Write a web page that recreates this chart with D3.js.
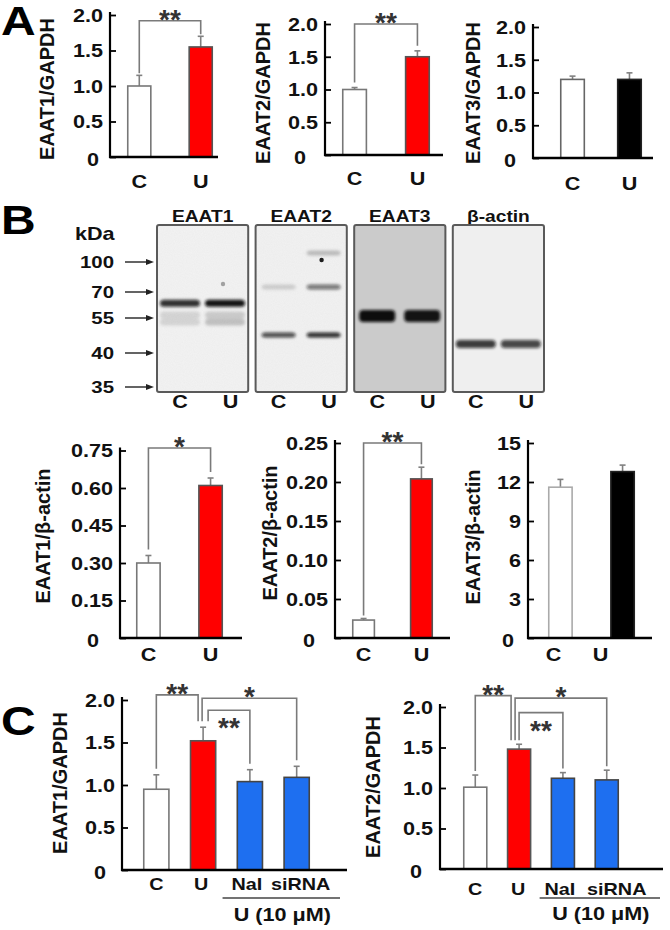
<!DOCTYPE html>
<html><head><meta charset="utf-8">
<script src="https://cdn.jsdelivr.net/npm/d3@7"></script>
<style>
html,body{margin:0;padding:0;background:#fff;}
svg{display:block;}
text{font-family:"Liberation Sans",Arial,sans-serif;font-weight:bold;}
</style></head><body>
<svg id="fig" width="670" height="930"></svg>
<script>
// ================= DATA =================
const groupsAB = ["C", "U"];
const groupsC = ["C", "U", "NaI", "siRNA"];

const a1Values = [1.00, 1.55], a1Errors = [0.15, 0.15];
const a2Values = [1.00, 1.50], a2Errors = [0.03, 0.09];
const a3Values = [1.20, 1.20], a3Errors = [0.05, 0.10];

const b1Values = [0.30, 0.61], b1Errors = [0.03, 0.03];
const b2Values = [0.023, 0.204], b2Errors = [0.002, 0.015];
const b3Values = [11.6, 12.8], b3Errors = [0.6, 0.5];

const c1Values = [0.95, 1.52, 1.04, 1.09], c1Errors = [0.17, 0.16, 0.14, 0.13];
const c2Values = [1.01, 1.48, 1.12, 1.10], c2Errors = [0.15, 0.06, 0.07, 0.12];

const ticksGAPDH = [0, 0.5, 1.0, 1.5, 2.0];
const ticksB1 = [0, 0.15, 0.30, 0.45, 0.60, 0.75];
const ticksB2 = [0, 0.05, 0.10, 0.15, 0.20, 0.25];
const ticksB3 = [0, 3, 6, 9, 12, 15];

const sigA1 = [{a: "C", b: "U", level: 1.92, label: "**"}];
const sigA2 = [{a: "C", b: "U", level: 2.00, label: "**"}];
const sigB1 = [{a: "C", b: "U", level: 0.76, label: "*"}];
const sigB2 = [{a: "C", b: "U", level: 0.25, label: "**"}];
const sigC1 = [{a: "C", b: "U", level: 2.06, label: "**"},
               {a: "U", b: "siRNA", level: 2.02, label: "*"},
               {a: "U", b: "NaI", level: 1.88, label: "**"}];
const sigC2 = [{a: "C", b: "U", level: 2.14, label: "**"},
               {a: "U", b: "siRNA", level: 2.11, label: "*"},
               {a: "U", b: "NaI", level: 1.93, label: "**"}];

// western blot
const blotNames = ["EAAT1", "EAAT2", "EAAT3", "β-actin"];
const laneNames = ["C", "U"];
const markerKDa = [100, 70, 55, 40, 35];
const blotBands = [
  {blot: "EAAT1", lane: "C", kDa: 63.5, intensity: 0.85},
  {blot: "EAAT1", lane: "U", kDa: 63.5, intensity: 0.97},
  {blot: "EAAT1", lane: "C", kDa: 56.7, intensity: 0.12},
  {blot: "EAAT1", lane: "U", kDa: 56.7, intensity: 0.16},
  {blot: "EAAT1", lane: "C", kDa: 53.3, intensity: 0.12},
  {blot: "EAAT1", lane: "U", kDa: 53.3, intensity: 0.2},
  {blot: "EAAT2", lane: "C", kDa: 47.7, intensity: 0.72},
  {blot: "EAAT2", lane: "U", kDa: 47.7, intensity: 0.85},
  {blot: "EAAT2", lane: "C", kDa: 75, intensity: 0.15},
  {blot: "EAAT2", lane: "U", kDa: 75, intensity: 0.55},
  {blot: "EAAT2", lane: "U", kDa: 109, intensity: 0.22},
  {blot: "EAAT3", lane: "C", kDa: 56.2, intensity: 1.0},
  {blot: "EAAT3", lane: "U", kDa: 56.2, intensity: 0.97},
  {blot: "β-actin", lane: "C", kDa: 43.9, intensity: 0.8},
  {blot: "β-actin", lane: "U", kDa: 43.9, intensity: 0.75}
];
const blotSpots = [
  {blot: "EAAT2", lane: "U", kDa: 102, intensity: 0.95},
  {blot: "EAAT1", lane: "U", kDa: 78, intensity: 0.35}
];

// ================= LAYOUT / STYLE =================
const SX = 1.2;            // horizontal text stretch of the original figure
const WHITE = "#ffffff", RED = "#ff0000", BLACK = "#000000", BLUE = "#1e6ff0";
const svg = d3.select("#fig");

const defs = svg.append("defs");
defs.append("filter").attr("id", "bandBlur").attr("x", "-30%").attr("y", "-100%").attr("width", "160%").attr("height", "300%")
  .append("feGaussianBlur").attr("stdDeviation", "1.8 1.4");
const noise = defs.append("filter").attr("id", "noise").attr("x", 0).attr("y", 0).attr("width", "100%").attr("height", "100%");
noise.append("feTurbulence").attr("type", "fractalNoise").attr("baseFrequency", 0.9).attr("numOctaves", 2).attr("seed", 3).attr("result", "t");
noise.append("feColorMatrix").attr("in", "t").attr("type", "matrix")
  .attr("values", "0 0 0 0 0.5  0 0 0 0 0.5  0 0 0 0 0.5  0 0 0 0.12 0");

function htext(g, x, y, str, size, anchor = "middle", fill = "#111") {
  return g.append("text")
    .attr("transform", `translate(${x},${y}) scale(${SX},1)`)
    .attr("text-anchor", anchor)
    .attr("font-size", size)
    .attr("fill", fill)
    .text(str);
}

// ================= BAR PANELS =================
const panels = [
  {groups: groupsAB, values: a1Values, errors: a1Errors, fills: [WHITE, RED], strokes: ["#777", "#555"],
   ticks: ticksGAPDH, fmt: d3.format(".1f"), yMax: 2, title: "EAAT1/GAPDH", sig: sigA1,
   L: {axisX: 110, xEnd: 218, base: 157, top: 15, barRange: [127, 213], pad: 0.6, titleX: 54, titleY: 89,
       labelPad: 18, zeroDx: -17, gap: 2}},
  {groups: groupsAB, values: a2Values, errors: a2Errors, fills: [WHITE, RED], strokes: ["#777", "#555"],
   ticks: ticksGAPDH, fmt: d3.format(".1f"), yMax: 2, title: "EAAT2/GAPDH", sig: sigA2,
   L: {axisX: 325, xEnd: 443, base: 155, top: 24, barRange: [342, 430], pad: 0.6, titleX: 270, titleY: 93,
       labelPad: 17, zeroDx: -25, gap: 5}},
  {groups: groupsAB, values: a3Values, errors: a3Errors, fills: [WHITE, BLACK], strokes: ["#666", "#222"],
   ticks: ticksGAPDH, fmt: d3.format(".1f"), yMax: 2, title: "EAAT3/GAPDH", sig: [],
   L: {axisX: 533, xEnd: 653, base: 158, top: 27, barRange: [560, 642], pad: 0.56, titleX: 480, titleY: 93,
       labelPad: 19, zeroDx: -23, gap: 3}},
  {groups: groupsAB, values: b1Values, errors: b1Errors, fills: [WHITE, RED], strokes: ["#777", "#555"],
   ticks: ticksB1, fmt: d3.format(".2f"), yMax: 0.75, title: "EAAT1/β-actin", sig: sigB1,
   L: {axisX: 120, xEnd: 242, base: 638, top: 450.5, barRange: [136, 223], pad: 0.6, titleX: 50, titleY: 536,
       labelPad: 10, zeroDx: -27, gap: 6}},
  {groups: groupsAB, values: b2Values, errors: b2Errors, fills: [WHITE, RED], strokes: ["#777", "#555"],
   ticks: ticksB2, fmt: d3.format(".2f"), yMax: 0.25, title: "EAAT2/β-actin", sig: sigB2,
   L: {axisX: 335, xEnd: 450, base: 638, top: 443, barRange: [352, 433], pad: 0.6, titleX: 277, titleY: 533,
       labelPad: 10, zeroDx: -26, gap: 3}},
  {groups: groupsAB, values: b3Values, errors: b3Errors, fills: [WHITE, BLACK], strokes: ["#aaa", "#222"],
   ticks: ticksB3, fmt: d3.format("d"), yMax: 15, title: "EAAT3/β-actin", sig: [],
   L: {axisX: 528, xEnd: 652, base: 638, top: 443, barRange: [548, 635], pad: 0.6, titleX: 480, titleY: 537,
       labelPad: 10, zeroDx: -20, gap: 3, labelDx: [-7, -22]}},
  {groups: groupsC, values: c1Values, errors: c1Errors, fills: [WHITE, RED, BLUE, BLUE], strokes: ["#777", "#555", "#444", "#444"],
   ticks: ticksGAPDH, fmt: d3.format(".1f"), yMax: 2, title: "EAAT1/GAPDH", sig: sigC1,
   L: {axisX: 122, xEnd: 347, base: 870, top: 700, barRange: [143, 310], pad: 0.43, titleX: 67, titleY: 783,
       labelPad: 8, zeroDx: -22, gap: 6, endOffsets: [[0, -5], [-1, 0], [5, 0]], below: [2],
       labelDx: [0, -2, -3, 4], labelSize: 16.5,
       underPad: [14, 30], underY: 898, groupLabelY: 921}},
  {groups: groupsC, values: c2Values, errors: c2Errors, fills: [WHITE, RED, BLUE, BLUE], strokes: ["#777", "#555", "#444", "#444"],
   ticks: ticksGAPDH, fmt: d3.format(".1f"), yMax: 2, title: "EAAT2/GAPDH", sig: sigC2,
   L: {axisX: 440, xEnd: 663, base: 869, top: 707, barRange: [463, 619], pad: 0.44, titleX: 380, titleY: 787,
       labelPad: 14, zeroDx: -24, gap: 4, endOffsets: [[0, -8], [-4, 0], [0, 0]], below: [2],
       labelDx: [0, -1, -3, 10], labelSize: 16.5,
       underPad: [11, 41], underY: 898, groupLabelY: 920}}
];

function barPanel(p) {
  const L = p.L;
  const g = svg.append("g");
  const y = d3.scaleLinear().domain([0, p.yMax]).range([L.base, L.top]);
  const x = d3.scaleBand().domain(p.groups).range(L.barRange).paddingInner(L.pad).paddingOuter(0);
  const bw = x.bandwidth();
  const rows = p.groups.map((k, i) => ({k, v: p.values[i], e: p.errors[i], fill: p.fills[i], stroke: p.strokes[i]}));

  // error bars (upward only)
  const eg = g.append("g").attr("stroke", "#808080").attr("stroke-width", 1.6);
  eg.selectAll("line.err").data(rows).join("line")
    .attr("x1", d => x(d.k) + bw / 2).attr("x2", d => x(d.k) + bw / 2)
    .attr("y1", d => y(d.v)).attr("y2", d => y(d.v + d.e));
  eg.selectAll("line.cap").data(rows).join("line")
    .attr("x1", d => x(d.k) + bw / 2 - 3).attr("x2", d => x(d.k) + bw / 2 + 3)
    .attr("y1", d => y(d.v + d.e)).attr("y2", d => y(d.v + d.e));

  // bars
  g.selectAll("rect.bar").data(rows).join("rect")
    .attr("x", d => x(d.k) + 0.75).attr("width", bw - 1.5)
    .attr("y", d => y(d.v)).attr("height", d => L.base - y(d.v))
    .attr("fill", d => d.fill).attr("stroke", d => d.stroke).attr("stroke-width", 1.6);

  // y axis with inward ticks
  const ya = d3.axisLeft(y).tickValues(p.ticks).tickSizeInner(-6).tickSizeOuter(0).tickPadding(0).tickFormat(p.fmt);
  const yg = g.append("g").attr("transform", `translate(${L.axisX},0)`).call(ya);
  yg.attr("font-family", null).attr("font-size", 18);
  yg.select(".domain").remove();
  yg.selectAll(".tick line").attr("stroke", "#000").attr("stroke-width", 1.8);
  yg.selectAll(".tick text")
    .attr("x", -7 / SX).attr("dy", "0.36em").attr("fill", "#111")
    .attr("transform", `scale(${SX},1)`);
  yg.selectAll(".tick text").filter(d => d === 0)
    .attr("x", L.zeroDx / SX).attr("text-anchor", "middle").attr("dy", "0.45em").text("0");

  // axis lines
  g.append("line").attr("x1", L.axisX).attr("x2", L.axisX).attr("y1", L.base + 1).attr("y2", L.top - 3)
    .attr("stroke", "#000").attr("stroke-width", 2.2);
  g.append("line").attr("x1", L.axisX - 1).attr("x2", L.xEnd).attr("y1", L.base).attr("y2", L.base)
    .attr("stroke", "#000").attr("stroke-width", 2.6);

  // x labels
  const xa = d3.axisBottom(x).tickSize(0).tickPadding(L.labelPad);
  const xg = g.append("g").attr("transform", `translate(0,${L.base})`).call(xa);
  xg.attr("font-family", null).attr("font-size", L.labelSize || 18);
  xg.select(".domain").remove();
  xg.selectAll(".tick text").attr("fill", "#111")
    .attr("x", (d, i) => (L.labelDx ? L.labelDx[i] : 0) / SX)
    .attr("transform", `scale(${SX},1)`);

  // y title
  g.append("text")
    .attr("transform", `translate(${L.titleX},${L.titleY}) rotate(-90)`)
    .attr("text-anchor", "middle").attr("font-size", 20).attr("fill", "#111")
    .text(p.title);

  // significance brackets
  const topOf = k => { const i = p.groups.indexOf(k); return y(p.values[i] + p.errors[i]); };
  p.sig.forEach((s, i) => {
    const off = L.endOffsets ? L.endOffsets[i] : [0, 0];
    const xa0 = x(s.a) + bw / 2 + off[0];
    const xb0 = x(s.b) + bw / 2 + off[1];
    const ly = y(s.level);
    const ya0 = topOf(s.a) - L.gap, yb0 = topOf(s.b) - L.gap;
    g.append("path")
      .attr("d", `M${xa0},${ya0}V${ly}H${xb0}V${yb0}`)
      .attr("fill", "none").attr("stroke", "#7a7a7a").attr("stroke-width", 1.6);
    const below = L.below && L.below.includes(i);
    g.append("text")
      .attr("x", (xa0 + xb0) / 2).attr("y", below ? ly + 27 : ly + 8)
      .attr("text-anchor", "middle").attr("font-size", 28).attr("fill", "#333")
      .text(s.label);
  });

  // "U (10 µM)" grouping for panel C
  if (L.underPad) {
    const x0 = x("NaI") - L.underPad[0];
    const x1 = x("siRNA") + bw + L.underPad[1];
    g.append("line").attr("x1", x0).attr("x2", x1).attr("y1", L.underY).attr("y2", L.underY)
      .attr("stroke", "#444").attr("stroke-width", 1.5);
    htext(g, (x0 + x1) / 2 + 1, L.groupLabelY, "U (10 μM)", 18);
  }
}
panels.forEach(barPanel);

// ================= WESTERN BLOT (panel B top) =================
(function blots() {
  const g = svg.append("g");
  const bx = d3.scaleBand().domain(blotNames).range([157, 544]).paddingInner(0.075).paddingOuter(0);
  const bw = bx.bandwidth();
  const yTop = 225, yBot = 392;
  const kDaY = d3.scaleLinear().domain([35, 40, 55, 70, 100]).range([387, 353, 318, 292, 262]);
  const laneX = d3.scalePoint().domain(laneNames).range([23, 68]);
  const laneLabelX = d3.scalePoint().domain(laneNames).range([23, 73.5]);
  const bgFill = {"EAAT1": "#f3f3f3", "EAAT2": "#f2f2f2", "EAAT3": "#cbcbcb", "β-actin": "#efefef"};
  const bandH = {"EAAT1": 7, "EAAT2": 5, "EAAT3": 12, "β-actin": 8};
  const bandW = {"EAAT1": 40, "EAAT2": 34, "EAAT3": 36, "β-actin": 40};
  const noisy = {"EAAT1": true, "EAAT2": true, "EAAT3": false, "β-actin": false};

  blotNames.forEach(n => {
    const gx = bx(n);
    g.append("rect").attr("x", gx).attr("y", yTop).attr("width", bw).attr("height", yBot - yTop)
      .attr("rx", 2).attr("fill", bgFill[n]);
    if (noisy[n]) {
      g.append("rect").attr("x", gx).attr("y", yTop).attr("width", bw).attr("height", yBot - yTop)
        .attr("filter", "url(#noise)").attr("fill", "#fff");
    }
    htext(g, gx + bw / 2, 222, n, 16);
    laneNames.forEach(l => htext(g, gx + laneLabelX(l), 408, l, 18));
  });

  const bandG = g.append("g").attr("filter", "url(#bandBlur)");
  bandG.selectAll("rect").data(blotBands).join("rect")
    .attr("x", d => bx(d.blot) + laneX(d.lane) - bandW[d.blot] / 2)
    .attr("width", d => bandW[d.blot])
    .attr("y", d => kDaY(d.kDa) - bandH[d.blot] / 2)
    .attr("height", d => bandH[d.blot])
    .attr("rx", 4)
    .attr("fill", "#0d0d0d")
    .attr("fill-opacity", d => d.intensity);
  g.append("g").selectAll("circle").data(blotSpots).join("circle")
    .attr("cx", d => bx(d.blot) + laneX(d.lane) - 2)
    .attr("cy", d => kDaY(d.kDa))
    .attr("r", 2.2)
    .attr("fill", "#111").attr("fill-opacity", d => d.intensity);

  // frames
  blotNames.forEach(n => {
    g.append("rect").attr("x", bx(n)).attr("y", yTop).attr("width", bw).attr("height", yBot - yTop)
      .attr("rx", 2).attr("fill", "none").attr("stroke", "#5a5a5a").attr("stroke-width", 2);
  });

  // marker ladder
  htext(g, 75, 240, "kDa", 18, "start");
  markerKDa.forEach(k => {
    const yy = kDaY(k);
    htext(g, 114, yy + 6, String(k), 17, "end");
    g.append("line").attr("x1", 125).attr("x2", 148).attr("y1", yy).attr("y2", yy)
      .attr("stroke", "#222").attr("stroke-width", 1.4);
    g.append("path").attr("d", `M${154},${yy}L${146},${yy - 3}L${146},${yy + 3}Z`).attr("fill", "#222");
  });
})();

// ================= PANEL LETTERS =================
htext(svg, 1, 35, "A", 40, "start", "#000");
htext(svg, 1, 234, "B", 40, "start", "#000");
htext(svg, 1, 735, "C", 40, "start", "#000");
</script>
</body></html>
